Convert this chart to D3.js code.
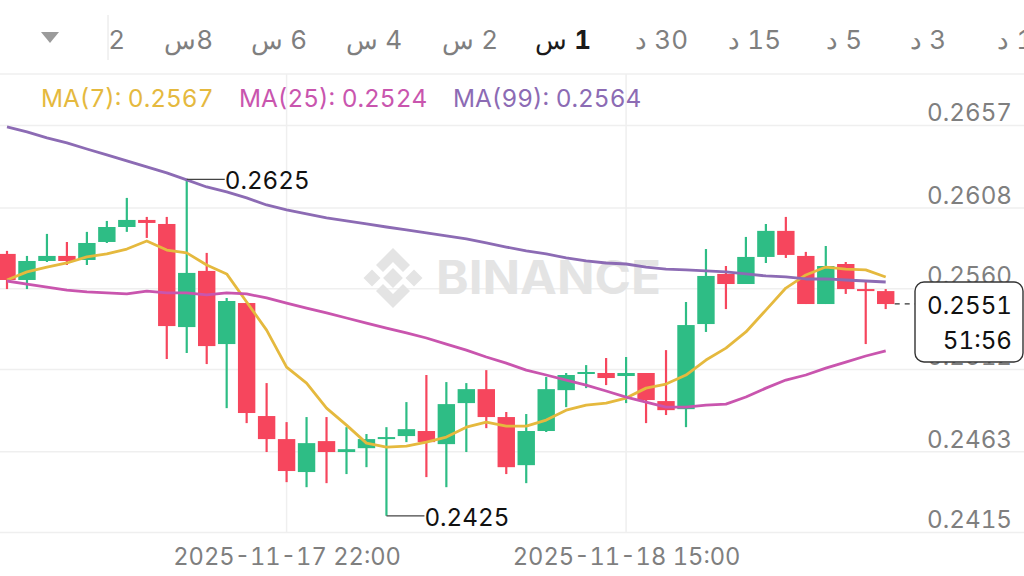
<!DOCTYPE html>
<html>
<head>
<meta charset="utf-8">
<script src="https://cdn.jsdelivr.net/npm/d3@7"></script>
<style>
html, body { margin: 0; padding: 0; background: #fff; overflow: hidden; }
text { font-family: Inter, "Noto Sans", sans-serif; font-variant-numeric: tabular-nums; }
</style>
</head>
<body>
<script>
// hourly candles, 2025-11-17 08:00 onwards
const open = [0.25807,0.25652,0.25765,0.25795,0.25771,0.25878,0.25967,0.26009,0.25985,0.25372,0.25706,0.25271,0.25515,0.24843,0.24706,0.24510,0.24694,0.24629,0.24652,0.24706,0.24724,0.24754,0.24676,0.24920,0.25003,0.24837,0.24551,0.24754,0.24997,0.25093,0.25099,0.25081,0.25099,0.24932,0.24884,0.25390,0.25688,0.25628,0.25789,0.25944,0.25795,0.25509,0.25747,0.25598,0.25586];
const high = [0.25825,0.25795,0.25926,0.25878,0.25938,0.26003,0.26140,0.26027,0.26027,0.2625,0.25813,0.25545,0.25515,0.25039,0.24807,0.24837,0.24837,0.24777,0.24736,0.24777,0.24926,0.25087,0.25045,0.25039,0.25116,0.24867,0.24855,0.25075,0.25099,0.25146,0.25188,0.25194,0.25099,0.25235,0.25521,0.25836,0.25735,0.25908,0.25985,0.26027,0.25819,0.25854,0.25759,0.25652,0.25598];
const low = [0.25598,0.25598,0.25759,0.25741,0.25741,0.25872,0.25938,0.25902,0.25182,0.25218,0.25152,0.24890,0.24801,0.24629,0.24450,0.24420,0.24444,0.24498,0.24539,0.2425,0.24688,0.24480,0.24420,0.24629,0.24771,0.24498,0.24444,0.24748,0.24896,0.25009,0.25027,0.24920,0.24801,0.24849,0.24777,0.25343,0.25479,0.25628,0.25753,0.25783,0.25509,0.25509,0.25569,0.25271,0.25479];
const close = [0.25652,0.25765,0.25795,0.25765,0.25872,0.25967,0.26009,0.25991,0.25378,0.25694,0.25259,0.25527,0.24861,0.24706,0.24516,0.24682,0.24629,0.24646,0.24706,0.24718,0.24765,0.24688,0.24914,0.25003,0.24837,0.24539,0.24754,0.25003,0.25087,0.25105,0.25069,0.25099,0.24938,0.24878,0.25384,0.25676,0.25628,0.25789,0.25944,0.25801,0.25509,0.25735,0.25598,0.25586,0.25509];
const ma7 = [0.25652,0.25700,0.25729,0.25753,0.25789,0.25807,0.25836,0.25884,0.25830,0.25813,0.25741,0.25688,0.25521,0.25354,0.25134,0.25039,0.24890,0.24789,0.24682,0.24658,0.24664,0.24688,0.24718,0.24777,0.24807,0.24783,0.24783,0.24819,0.24878,0.24908,0.24920,0.24950,0.25009,0.25033,0.25087,0.25176,0.25247,0.25343,0.25473,0.25604,0.25682,0.25729,0.25717,0.25712,0.25670];
const ma25 = [0.25646,0.25628,0.25610,0.25592,0.25581,0.25575,0.25569,0.25586,0.25575,0.25575,0.25563,0.25575,0.25569,0.25545,0.25515,0.25485,0.25456,0.25426,0.25396,0.25366,0.25337,0.25307,0.25271,0.25235,0.25194,0.25158,0.25116,0.25087,0.25057,0.25027,0.24992,0.24956,0.24926,0.24896,0.24896,0.24908,0.24914,0.24956,0.25009,0.25057,0.25087,0.25128,0.25164,0.25200,0.25230];
const ma99 = [0.26562,0.26533,0.26497,0.26467,0.26431,0.26396,0.26360,0.26324,0.26289,0.26247,0.26205,0.26176,0.26140,0.26098,0.26069,0.26045,0.26021,0.26003,0.25985,0.25967,0.25950,0.25932,0.25914,0.25896,0.25872,0.25848,0.25825,0.25807,0.25783,0.25765,0.25753,0.25747,0.25729,0.25717,0.25712,0.25706,0.25700,0.25688,0.25676,0.25670,0.25658,0.25658,0.25652,0.25646,0.25640];

const priceTicks = [0.2657, 0.2608, 0.2560, 0.2512, 0.2463, 0.2415];
const timeTicks = ["2025-11-17 22:00", "2025-11-18 15:00"];
const tabs = ["2", "8س", "6 س", "4 س", "2 س", "1 س", "30 د", "15 د", "5 د", "3 د", "1 د"];
const tabRight = [125, 213, 307, 402, 498, 591, 688, 781, 862, 946, 1033];
const activeTab = "1 س";
const legendNames = ["MA(7): 0.2567", "MA(25): 0.2524", "MA(99): 0.2564"];
const legendX = [41, 239, 453];
const lastPrice = 0.2551;
const countdown = "51:56";
const highMark = {index: 9, text: "0.2625"};
const lowMark = {index: 19, text: "0.2425"};

const width = 1024, height = 576;
const up = "#2ebd85", down = "#f6465d";
const maColors = ["#e5b93e", "#c955ae", "#8c6bb4"];
const grey = "#7f7f7f", gridCol = "#efefef";

const svg = d3.select("body").append("svg")
    .attr("width", width)
    .attr("height", height)
    .style("display", "block");

const parseTime = d3.utcParse("%Y-%m-%d %H:%M");
const formatTime = d3.utcFormat("%Y-%m-%d %H:%M");
const t0 = parseTime("2025-11-17 08:00");
const timeOf = i => d3.utcHour.offset(t0, i);

const x = d3.scaleUtc().domain([t0, timeOf(44)]).range([7, 885.7]);
const y = d3.scaleLinear().domain([0.2608, 0.2415]).range([208, 532.6]);
const cx = i => x(timeOf(i));

// header
svg.append("path").attr("d", "M41,32H59L50,43Z").attr("fill", "#9b9b9b");
svg.append("line").attr("x1", 108).attr("x2", 108).attr("y1", 15).attr("y2", 60)
    .attr("stroke", "#e4e4e4").attr("stroke-width", 1);
svg.append("line").attr("x1", 0).attr("x2", width).attr("y1", 74).attr("y2", 74)
    .attr("stroke", gridCol).attr("stroke-width", 1.5);

svg.selectAll(".tab").data(tabs).join("text")
    .attr("class", "tab")
    .attr("x", (d, i) => tabRight[i])
    .attr("y", 49)
    .attr("text-anchor", "start")
    .style("direction", "rtl")
    .attr("font-size", 26)
    .attr("fill", d => d === activeTab ? "#1a1a1a" : grey)
    .each(function(d) {
      // only the number of the active tab is bold
      d3.select(this).selectAll("tspan").data(d.split(" ")).join("tspan")
          .attr("font-weight", (w, j) => d === activeTab && j === 0 ? 700 : 400)
          .text((w, j) => j === 0 ? w : " " + w);
    });

// grid
svg.append("g").selectAll("line").data(priceTicks).join("line")
    .attr("x1", 0).attr("x2", width)
    .attr("y1", d => y(d)).attr("y2", d => y(d))
    .attr("stroke", gridCol).attr("stroke-width", 1.5);
svg.append("g").selectAll("line").data(timeTicks).join("line")
    .attr("x1", d => x(parseTime(d))).attr("x2", d => x(parseTime(d)))
    .attr("y1", 74).attr("y2", 533)
    .attr("stroke", gridCol).attr("stroke-width", 1.5);

// watermark
const wm = svg.append("g").attr("fill", "#e4e4e4");
[[393, 278, 7], [372, 278, 6], [414, 278, 6]].forEach(([a, b, s]) => {
  wm.append("rect").attr("x", a - s).attr("y", b - s).attr("width", 2 * s).attr("height", 2 * s)
    .attr("transform", `rotate(45 ${a} ${b})`);
});
wm.append("path").attr("d", "M393,248L410,265L403,272L393,262L383,272L376,265Z");
wm.append("path").attr("d", "M393,308L410,291L403,284L393,294L383,284L376,291Z");
wm.append("text").attr("x", 436).attr("y", 294).attr("font-size", 46).attr("font-weight", 700)
    .attr("textLength", 225).attr("lengthAdjust", "spacingAndGlyphs").text("BINANCE");

// legend
svg.selectAll(".legend").data(legendNames).join("text")
    .attr("class", "legend")
    .attr("x", (d, i) => legendX[i])
    .attr("y", 107)
    .attr("font-size", 24.4)
    .attr("fill", (d, i) => maColors[i])
    .text(d => d);

// price and time axes
const yAxis = svg.append("g")
    .attr("transform", "translate(1012,0)")
    .call(d3.axisLeft(y).tickValues(priceTicks).tickSize(0).tickFormat(d3.format(".4f")));
yAxis.select(".domain").remove();
yAxis.selectAll("text")
    .attr("x", 0).attr("dy", "-0.2em")
    .attr("font-size", 24.2).attr("fill", grey)
    .style("font-family", "Inter, 'Noto Sans', sans-serif");

const xAxis = svg.append("g")
    .attr("transform", "translate(0,533)")
    .call(d3.axisBottom(x).tickValues(timeTicks.map(parseTime)).tickSize(0).tickFormat(formatTime));
xAxis.select(".domain").remove();
xAxis.selectAll("text")
    .attr("y", 15).attr("dy", "0.71em")
    .attr("font-size", 23.7).attr("fill", grey)
    .style("font-family", "Inter, 'Noto Sans', sans-serif");

// candles
const idx = d3.range(open.length);
const colorOf = i => close[i] >= open[i] ? up : down;
svg.append("g").selectAll("line").data(idx).join("line")
    .attr("x1", cx).attr("x2", cx)
    .attr("y1", i => y(high[i])).attr("y2", i => y(low[i]))
    .attr("stroke", colorOf).attr("stroke-width", 2.2);
svg.append("g").selectAll("rect").data(idx).join("rect")
    .attr("x", i => cx(i) - 8.7)
    .attr("width", 17.4)
    .attr("y", i => y(Math.max(open[i], close[i])))
    .attr("height", i => Math.abs(y(open[i]) - y(close[i])))
    .attr("fill", colorOf);

// moving averages
const maLine = d3.line().x((d, i) => cx(i)).y(d => y(d));
[ma7, ma25, ma99].forEach((s, k) => {
  svg.append("path").attr("d", maLine(s))
    .attr("fill", "none")
    .attr("stroke", maColors[k])
    .attr("stroke-width", 2.8)
    .attr("stroke-linejoin", "round");
});

// high / low labels
[highMark, lowMark].forEach((m, k) => {
  const v = k === 0 ? high[m.index] : low[m.index];
  svg.append("line")
    .attr("x1", cx(m.index)).attr("x2", cx(m.index) + 38)
    .attr("y1", y(v)).attr("y2", y(v))
    .attr("stroke", "#444").attr("stroke-width", 1.3);
  svg.append("text")
    .attr("x", cx(m.index) + 38).attr("y", y(v) + 10)
    .attr("font-size", 24.2).attr("fill", "#111")
    .text(m.text);
});

// last price tag
svg.append("line")
    .attr("x1", cx(44) + 9).attr("x2", 915)
    .attr("y1", y(lastPrice)).attr("y2", y(lastPrice))
    .attr("stroke", "#333").attr("stroke-width", 1.2)
    .attr("stroke-dasharray", "5 5");
svg.append("rect")
    .attr("x", 915).attr("y", 282).attr("width", 108).attr("height", 80).attr("rx", 9)
    .attr("fill", "#fff").attr("stroke", "#333").attr("stroke-width", 1.4);
svg.append("text")
    .attr("x", 1012).attr("y", 314).attr("text-anchor", "end")
    .attr("font-size", 24.2).attr("fill", "#111")
    .text(d3.format(".4f")(lastPrice));
svg.append("text")
    .attr("x", 1012).attr("y", 349).attr("text-anchor", "end")
    .attr("font-size", 24.2).attr("fill", "#111")
    .text(countdown);
</script>
</body>
</html>
